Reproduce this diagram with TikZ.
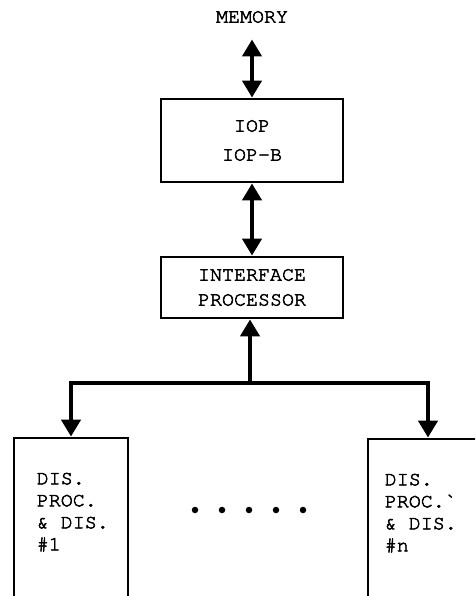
\documentclass[tikz,border=0pt]{standalone}
\usepackage{fontspec}
\setmonofont[FakeBold=2.5]{texgyrecursor-regular.otf}
\usepackage{tikz}
\usetikzlibrary{arrows.meta}
\usetikzlibrary{positioning}
\tikzstyle{tt} = [font=\ttfamily\fontsize{20}{22}\selectfont]
\tikzstyle{block} = [rectangle, draw, line width=2.8pt, tt, align=center,
    minimum width=182pt]
\tikzstyle{unit} = [rectangle, draw, line width=2.8pt, minimum height=170pt]
\tikzstyle{unittext} = [tt, align=left, inner sep=0pt]
\tikzstyle{line} = [draw, line width=4.5pt, -{Triangle[width=19pt,length=17pt]}]
\tikzstyle{dline} = [line, {Triangle[width=19pt,length=17pt]}-{Triangle[width=19pt,length=17pt]}]
\tikzstyle{dot} = [circle, fill, inner sep=0pt, minimum size=6.5pt]

\begin{document}
\begin{tikzpicture}[x=1pt,y=-1pt]
    \clip (0,0) rectangle (475,596);
    \fill[white] (0,0) rectangle (475,596);
    % Place nodes
    \node [tt] (mem) at (252,17) {MEMORY};
    \node [block, minimum height=83pt, font=\ttfamily\fontsize{20}{29}\selectfont] (iop) at (252,140.5) {IOP\\IOP-B};
    \node [block, minimum height=61pt, font=\ttfamily\fontsize{20}{25}\selectfont] (ifp) at (252,287.5) {INTERFACE\\PROCESSOR};
    \node [unit, minimum width=114pt] (dp1) at (71,523) {};
    \node [unittext, below right=36pt and 24pt of dp1.north west] (dp1txt) {DIS.\\PROC.\\\& DIS.\\\#1};
    \node [unit, minimum width=130pt] (dpn) at (433,524) {};
    \node [unittext, below right=36pt and 18pt of dpn.north west] (dpntxt) {DIS.\\PROC.`\\\& DIS.\\\#n};
    \foreach \i in {0,...,4}
        \node [dot] (dot\i) at (195+27*\i,510) {};
    \coordinate (bus) at (250,383);
    \coordinate (busR) at (428,383);
    % Draw edges
    \path [dline, shorten >=13pt] (iop.north) -- (mem.south);
    \path [dline] (iop.south) -- (ifp.north);
    \path [line] (bus) -- (bus |- ifp.south);
    \path [line] (bus) -| (dp1.north);
    \path [line] (bus) -- (busR) -- (busR |- dpn.north);
\end{tikzpicture}
\end{document}
